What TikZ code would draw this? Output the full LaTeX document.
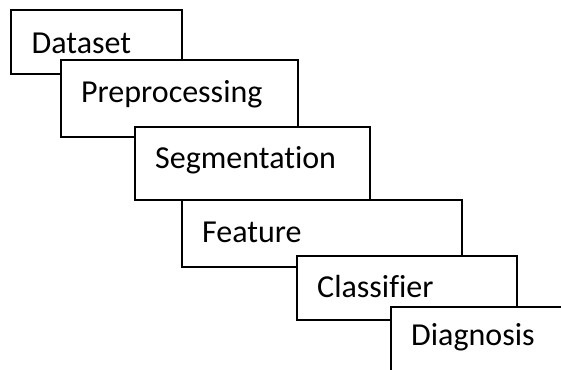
\documentclass[tikz,border=0pt]{standalone}
\usepackage{fontspec}
\setmainfont[Ligatures=NoCommon]{Carlito}
\begin{document}
\begin{tikzpicture}[x=1pt,y=-1pt,
  stagebox/.style={draw=black,fill=white,line width=1.7pt},
  lbl/.style={anchor=base west,inner sep=0pt,font=\fontsize{32}{38}\selectfont}]
\useasboundingbox (0,0) rectangle (561,369);
\clip (0,0) rectangle (561,369);
\draw[stagebox] (11,10) rectangle (182,74);
\node[lbl] (dataset) at (31.5,53) {Dataset};
\draw[stagebox] (61,60) rectangle (298,137);
\node[lbl] (prep) at (81,102) {Preprocessing};
\draw[stagebox] (135,127) rectangle (370,200);
\node[lbl] (seg) at (155,168) {Segmentation};
\draw[stagebox] (182,200) rectangle (462,267);
\node[lbl] (feat) at (202,242) {Feature};
\draw[stagebox] (297,256) rectangle (517,320);
\node[lbl] (clf) at (317,297) {Classifier};
\draw[stagebox] (391,307) rectangle (580,390);
\node[lbl] (diag) at (411,345) {Diagnosis};
\end{tikzpicture}
\end{document}
